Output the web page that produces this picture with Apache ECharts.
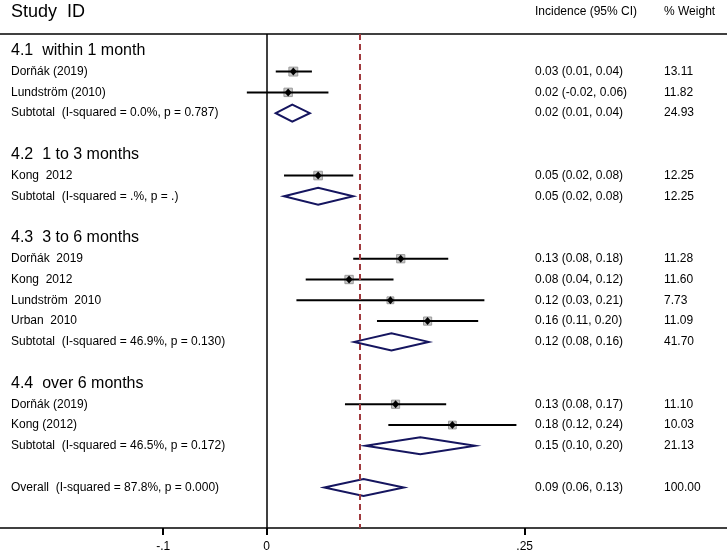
<!DOCTYPE html>
<html><head><meta charset="utf-8">
<script src="https://cdn.jsdelivr.net/npm/echarts/dist/echarts.min.js"></script>
<style>html,body{margin:0;padding:0;background:#fff}#c{width:727px;height:553px}</style>
</head><body><div id="c"></div>
<script>
// ---- data ----
const rowLabels = [
  '4.1  within 1 month', 'Dorňák (2019)', 'Lundström (2010)', 'Subtotal  (I-squared = 0.0%, p = 0.787)', '',
  '4.2  1 to 3 months', 'Kong  2012', 'Subtotal  (I-squared = .%, p = .)', '',
  '4.3  3 to 6 months', 'Dorňák  2019', 'Kong  2012', 'Lundström  2010', 'Urban  2010', 'Subtotal  (I-squared = 46.9%, p = 0.130)', '',
  '4.4  over 6 months', 'Dorňák (2019)', 'Kong (2012)', 'Subtotal  (I-squared = 46.5%, p = 0.172)', '',
  'Overall  (I-squared = 87.8%, p = 0.000)'
];
const rowKinds = ['g','s','s','d','', 'g','s','d','', 'g','s','s','s','s','d','', 'g','s','s','d','', 'd'];
const estimates = [null,0.026,0.021,0.025,null, null,0.050,0.050,null, null,0.130,0.080,0.120,0.156,0.121,null, null,0.125,0.180,0.149,null, 0.094];
const lowers    = [null,0.009,-0.019,0.009,null, null,0.017,0.017,null, null,0.084,0.038,0.029,0.107,0.085,null, null,0.076,0.118,0.096,null, 0.056];
const uppers    = [null,0.044,0.060,0.042,null, null,0.084,0.084,null, null,0.176,0.123,0.211,0.205,0.157,null, null,0.174,0.242,0.202,null, 0.133];
const ciTexts = ['', '0.03 (0.01, 0.04)', '0.02 (-0.02, 0.06)', '0.02 (0.01, 0.04)', '',
  '', '0.05 (0.02, 0.08)', '0.05 (0.02, 0.08)', '',
  '', '0.13 (0.08, 0.18)', '0.08 (0.04, 0.12)', '0.12 (0.03, 0.21)', '0.16 (0.11, 0.20)', '0.12 (0.08, 0.16)', '',
  '', '0.13 (0.08, 0.17)', '0.18 (0.12, 0.24)', '0.15 (0.10, 0.20)', '',
  '0.09 (0.06, 0.13)'];
const weights = [null,13.11,11.82,24.93,null, null,12.25,12.25,null, null,11.28,11.60,7.73,11.09,41.70,null, null,11.10,10.03,21.13,null, 100.00];
const tickValues = [-0.1, 0, 0.25];
const tickLabels = ['-.1', '0', '.25'];
const overallEstimate = 0.094;
const headers = {study: 'Study  ID', ci: 'Incidence (95% CI)', weight: '% Weight'};

// ---- build ----
const studyData = [], diamondData = [], textData = [];
rowLabels.forEach((lab, i) => {
  textData.push([0, i]);
  if (rowKinds[i] === 's') studyData.push([estimates[i], i, lowers[i], uppers[i], weights[i]]);
  if (rowKinds[i] === 'd') diamondData.push([estimates[i], i, lowers[i], uppers[i]]);
});
const FONT = '"Liberation Sans", Arial, sans-serif';
const LEFT_X = 11, CI_X = 535, W_X = 664;

const chart = echarts.init(document.getElementById('c'), null, {renderer: 'canvas'});
chart.setOption({
  animation: false,
  backgroundColor: '#fff',
  grid: {left: 0, right: 0, top: 34, bottom: 24, containLabel: false},
  xAxis: [{
    type: 'value', min: -0.258, max: 0.4459, position: 'bottom',
    splitLine: {show: false},
    axisLine: {show: true, onZero: false, lineStyle: {color: '#000', width: 1.5}},
    axisTick: {show: true, customValues: tickValues, length: 7, lineStyle: {color: '#000', width: 2}},
    axisLabel: {show: true, customValues: tickValues, margin: 13, color: '#000', fontSize: 12, fontFamily: FONT,
      formatter: v => { const k = tickValues.findIndex(t => Math.abs(t - v) < 1e-9); return k >= 0 ? tickLabels[k] : ''; }}
  }, {
    type: 'value', min: -0.258, max: 0.4459, position: 'top',
    splitLine: {show: false},
    axisLine: {show: true, onZero: false, lineStyle: {color: '#000', width: 1.5}},
    axisTick: {show: false}, axisLabel: {show: false}
  }],
  yAxis: {type: 'value', min: -0.808, max: 22.952, inverse: true, show: false},
  graphic: [
    {type: 'text', left: LEFT_X, top: 3, style: {text: headers.study, font: '18px ' + FONT, fill: '#000'}},
    {type: 'text', left: CI_X, top: 6, style: {text: headers.ci, font: '12px ' + FONT, fill: '#000'}},
    {type: 'text', left: W_X, top: 6, style: {text: headers.weight, font: '12px ' + FONT, fill: '#000'}}
  ],
  series: [
    {
      type: 'custom', name: 'lines', data: [[0, 0]], silent: true,
      renderItem: () => ({type: 'group', children: []}),
      markLine: {
        silent: true, symbol: 'none', label: {show: false},
        data: [
          {xAxis: 0, lineStyle: {color: '#000', width: 1.5, type: 'solid'}},
          {xAxis: overallEstimate, lineStyle: {color: '#a03a3e', width: 2, type: [6, 4]}}
        ]
      }
    },
    {
      type: 'custom', name: 'studies', data: studyData, clip: false,
      renderItem: (params, api) => {
        const y = api.coord([0, api.value(1)])[1];
        const xc = api.coord([api.value(0), 0])[0];
        const xl = api.coord([api.value(2), 0])[0];
        const xr = api.coord([api.value(3), 0])[0];
        const s = 2.45 * Math.sqrt(api.value(4));
        return {type: 'group', children: [
          {type: 'rect', shape: {x: xc - s / 2, y: y - s / 2, width: s, height: s}, style: {fill: '#c6c6c6', stroke: '#9a9a9a', lineWidth: 1}},
          {type: 'line', shape: {x1: xl, y1: y, x2: xr, y2: y}, style: {stroke: '#000', lineWidth: 2}},
          {type: 'polygon', shape: {points: [[xc - 3.5, y], [xc, y - 4], [xc + 3.5, y], [xc, y + 4]]}, style: {fill: '#000'}}
        ]};
      }
    },
    {
      type: 'custom', name: 'diamonds', data: diamondData, clip: false,
      renderItem: (params, api) => {
        const y = api.coord([0, api.value(1)])[1];
        const xc = api.coord([api.value(0), 0])[0];
        const xl = api.coord([api.value(2), 0])[0];
        const xr = api.coord([api.value(3), 0])[0];
        return {type: 'polygon', shape: {points: [[xl, y], [xc, y - 8.5], [xr, y], [xc, y + 8.5]]},
          style: {fill: 'none', stroke: '#15155f', lineWidth: 2}};
      }
    },
    {
      type: 'custom', name: 'texts', data: textData, clip: false,
      renderItem: (params, api) => {
        const i = params.dataIndex;
        const y = api.coord([0, api.value(1)])[1];
        const kids = [];
        const big = rowKinds[i] === 'g';
        if (rowLabels[i]) kids.push({type: 'text', x: LEFT_X, y: y, style: {text: rowLabels[i], font: (big ? '16px ' : '12px ') + FONT, fill: '#000', verticalAlign: 'middle', align: 'left'}});
        if (ciTexts[i]) kids.push({type: 'text', x: CI_X, y: y, style: {text: ciTexts[i], font: '12px ' + FONT, fill: '#000', verticalAlign: 'middle', align: 'left'}});
        if (weights[i] != null) kids.push({type: 'text', x: W_X, y: y, style: {text: weights[i].toFixed(2), font: '12px ' + FONT, fill: '#000', verticalAlign: 'middle', align: 'left'}});
        return {type: 'group', children: kids};
      }
    }
  ]
});
</script></body></html>
